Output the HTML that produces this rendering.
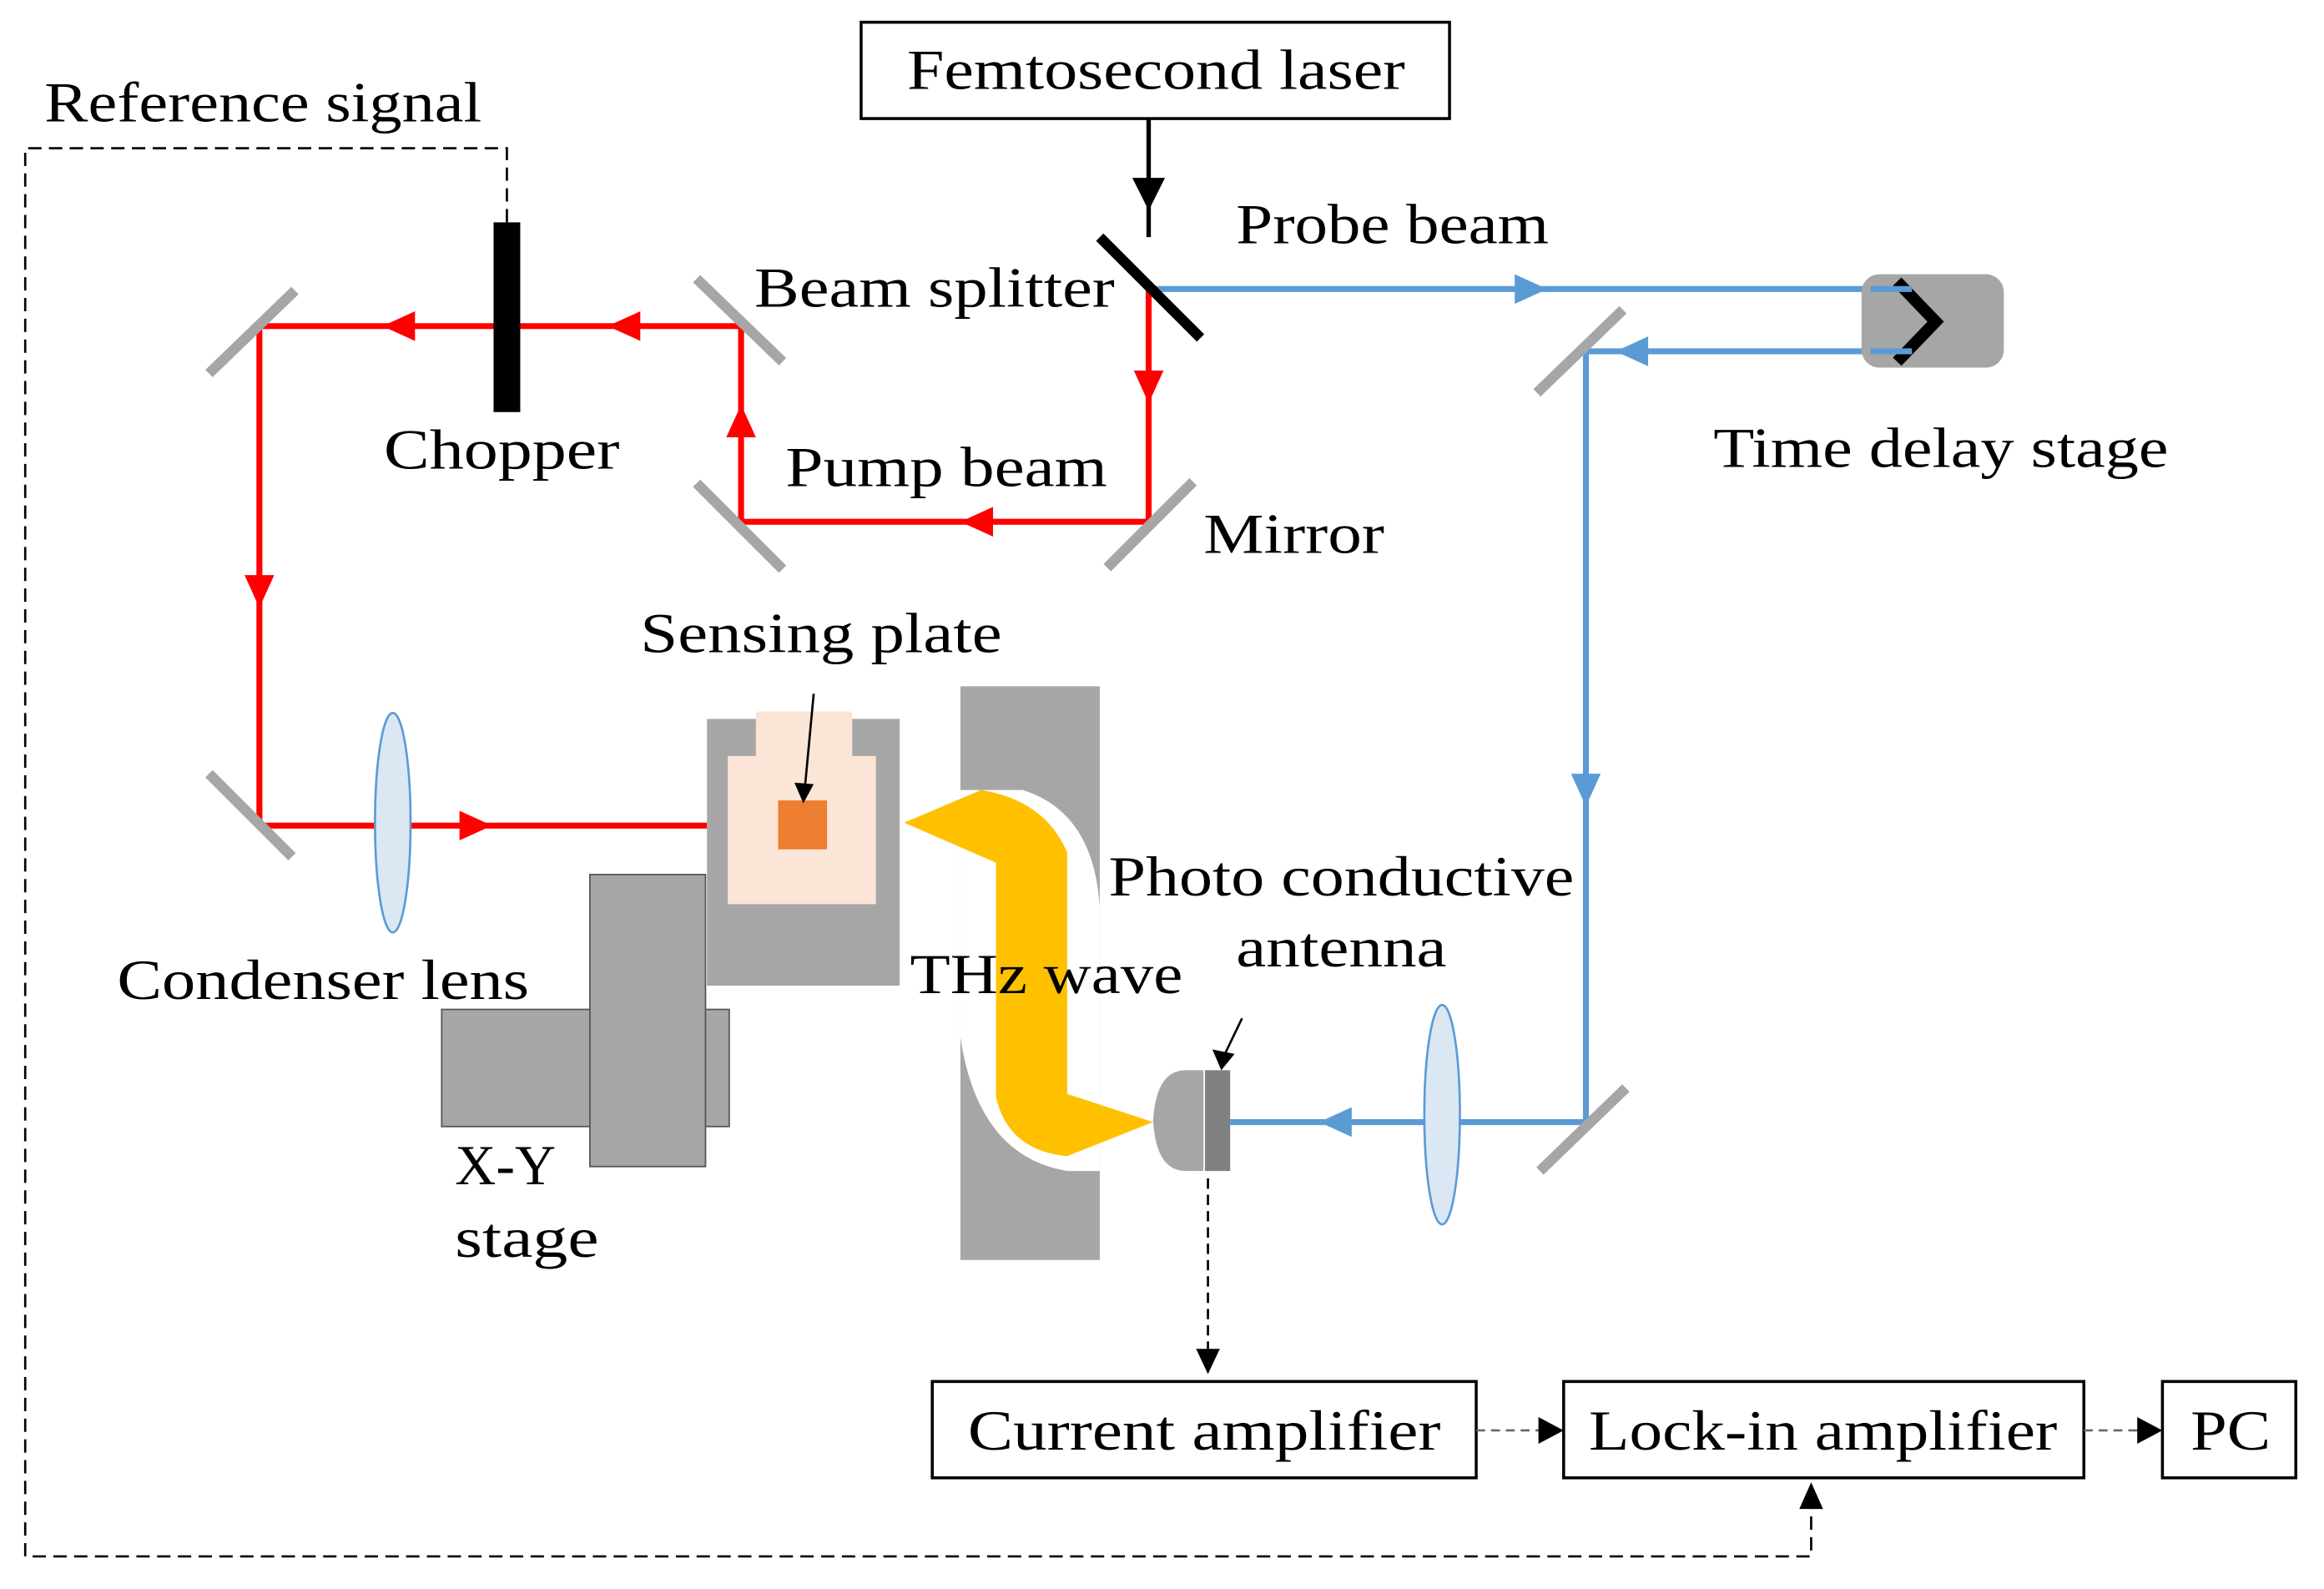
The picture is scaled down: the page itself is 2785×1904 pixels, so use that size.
<!DOCTYPE html>
<html><head><meta charset="utf-8"><style>html,body{margin:0;padding:0;background:#fff}svg{display:block}</style></head>
<body>
<svg width="2785" height="1904" viewBox="0 0 1568 1072" xmlns="http://www.w3.org/2000/svg" font-family="'Liberation Serif',serif" font-size="38">
<rect width="1568" height="1072" fill="#fff"/>
<!-- dashed reference -->
<path d="M342,150 V100 H17 V1050 H1222 V1010" fill="none" stroke="#000" stroke-width="1.5" stroke-dasharray="9,5"/>
<path d="M1214,1018 L1222,1000 L1230,1018Z" fill="#000"/>
<!-- boxes -->
<rect x="581" y="15" width="397" height="65" fill="#fff" stroke="#000" stroke-width="2"/>
<text x="612" y="60" textLength="336" lengthAdjust="spacingAndGlyphs">Femtosecond laser</text>
<rect x="629" y="932" width="367" height="65" fill="#fff" stroke="#000" stroke-width="2"/>
<text x="653" y="978" textLength="319" lengthAdjust="spacingAndGlyphs">Current amplifier</text>
<rect x="1055" y="932" width="351" height="65" fill="#fff" stroke="#000" stroke-width="2"/>
<text x="1072" y="978" textLength="316" lengthAdjust="spacingAndGlyphs">Lock-in amplifier</text>
<rect x="1459" y="932" width="90" height="65" fill="#fff" stroke="#000" stroke-width="2"/>
<text x="1478" y="978" textLength="54" lengthAdjust="spacingAndGlyphs">PC</text>
<path d="M996,965 H1040" stroke="#666" stroke-width="1.5" stroke-dasharray="6,4"/>
<path d="M1038,956 L1055,965 L1038,974Z" fill="#000"/>
<path d="M1406,965 H1442" stroke="#666" stroke-width="1.5" stroke-dasharray="6,4"/>
<path d="M1442,956 L1459,965 L1442,974Z" fill="#000"/>
<path d="M815,795 V912" stroke="#000" stroke-width="1.5" stroke-dasharray="7,4"/>
<path d="M807,910 L815,927 L823,910Z" fill="#000"/>
<!-- laser arrow -->
<path d="M775,80 V160" stroke="#000" stroke-width="3"/>
<path d="M764,120 L775,142 L786,120Z" fill="#000"/>
<!-- blue beams -->
<g stroke="#5b9bd5" stroke-width="4" fill="none">
<path d="M775,195 H1290"/>
<path d="M1290,237 H1070 V757 H830"/>
</g>
<g fill="#5b9bd5">
<path d="M1022,185 L1044,195 L1022,205Z"/>
<path d="M1112,227 L1090,237 L1112,247Z"/>
<path d="M1060,522 L1070,544 L1080,522Z"/>
<path d="M912,747 L890,757 L912,767Z"/>
</g>
<rect x="1256" y="185" width="96" height="63" rx="12" fill="#a6a6a6"/>
<path d="M1280,190 L1306,217 L1280,244" fill="none" stroke="#000" stroke-width="8"/>
<path d="M1262,195 H1290 M1262,237 H1290" stroke="#5b9bd5" stroke-width="4"/>
<!-- red beams -->
<g stroke="#ff0000" stroke-width="4" fill="none">
<path d="M775,195 V352 H500 V220 H175 V557 H477"/>
</g>
<g fill="#ff0000">
<path d="M765,250 L775,272 L785,250Z"/>
<path d="M670,342 L648,352 L670,362Z"/>
<path d="M490,295 L500,273 L510,295Z"/>
<path d="M432,210 L410,220 L432,230Z"/>
<path d="M280,210 L258,220 L280,230Z"/>
<path d="M165,388 L175,410 L185,388Z"/>
<path d="M310,547 L332,557 L310,567Z"/>
</g>
<!-- beam splitter -->
<path d="M742,160 L810,228" stroke="#000" stroke-width="7"/>
<!-- chopper -->
<rect x="333" y="150" width="18" height="128" fill="#000"/>
<!-- mirrors -->
<g stroke="#a6a6a6" stroke-width="7">
<path d="M141,252 L199,196"/>
<path d="M141,522 L197,578"/>
<path d="M470,188 L528,244"/>
<path d="M470,326 L528,384"/>
<path d="M747,383 L805,325"/>
<path d="M1037,265 L1095,209"/>
<path d="M1039,790 L1097,734"/>
</g>
<!-- lenses -->
<ellipse cx="265" cy="555" rx="12" ry="74" fill="#dbe7f3" stroke="#5b9bd5" stroke-width="1.5"/>
<ellipse cx="973" cy="752" rx="12" ry="74" fill="#dbe7f3" stroke="#5b9bd5" stroke-width="1.5"/>
<!-- sensing plate holder -->
<rect x="477" y="485" width="130" height="180" fill="#a6a6a6"/>
<path d="M510,480 H575 V510 H591 V610 H491 V510 H510Z" fill="#fbe5d6"/>
<rect x="525" y="540" width="33" height="33" fill="#ed7d31"/>
<path d="M549,468 L543,532" stroke="#000" stroke-width="1.5"/>
<path d="M536,528 L542,542 L549,529Z" fill="#000"/>
<!-- XY stage -->
<rect x="298" y="681" width="194" height="79" fill="#a6a6a6" stroke="#555" stroke-width="1"/>
<rect x="398" y="590" width="78" height="197" fill="#a6a6a6" stroke="#555" stroke-width="1"/>
<!-- parabolic mirror -->
<rect x="648" y="463" width="94" height="387" fill="#a6a6a6"/>
<path d="M648,533 L690,533 Q738,548 742,612 L742,790 L720,790 Q660,780 648,700 Z" fill="#fff"/>
<path d="M610,555 L662,533 Q705,540 720,575 L720,738 L778,757 L720,780 Q680,776 672,740 L672,582 Z" fill="#ffc000"/>
<!-- antenna -->
<path d="M812,722 H800 Q780,722 778,756 Q780,790 800,790 H812Z" fill="#a6a6a6"/>
<rect x="813" y="722" width="17" height="68" fill="#808080"/>
<path d="M838,687 L826,712" stroke="#000" stroke-width="1.5"/>
<path d="M818,708 L824,722 L833,711Z" fill="#000"/>
<!-- labels -->
<g lengthAdjust="spacingAndGlyphs">
<text x="30" y="82" textLength="295" lengthAdjust="spacingAndGlyphs">Reference signal</text>
<text x="509" y="207" textLength="243" lengthAdjust="spacingAndGlyphs">Beam splitter</text>
<text x="834" y="164" textLength="211" lengthAdjust="spacingAndGlyphs">Probe beam</text>
<text x="1156" y="315" textLength="307" lengthAdjust="spacingAndGlyphs">Time delay stage</text>
<text x="259" y="316" textLength="159" lengthAdjust="spacingAndGlyphs">Chopper</text>
<text x="530" y="328" textLength="217" lengthAdjust="spacingAndGlyphs">Pump beam</text>
<text x="812" y="373" textLength="122" lengthAdjust="spacingAndGlyphs">Mirror</text>
<text x="432" y="440" textLength="244" lengthAdjust="spacingAndGlyphs">Sensing plate</text>
<text x="748" y="604" textLength="314" lengthAdjust="spacingAndGlyphs">Photo conductive</text>
<text x="834" y="652" textLength="142" lengthAdjust="spacingAndGlyphs">antenna</text>
<text x="614" y="670" textLength="184" lengthAdjust="spacingAndGlyphs">THz wave</text>
<text x="79" y="674" textLength="278" lengthAdjust="spacingAndGlyphs">Condenser lens</text>
<text x="307" y="799" textLength="68" lengthAdjust="spacingAndGlyphs">X-Y</text>
<text x="307" y="848" textLength="97" lengthAdjust="spacingAndGlyphs">stage</text>
</g>
</svg>
</body></html>
